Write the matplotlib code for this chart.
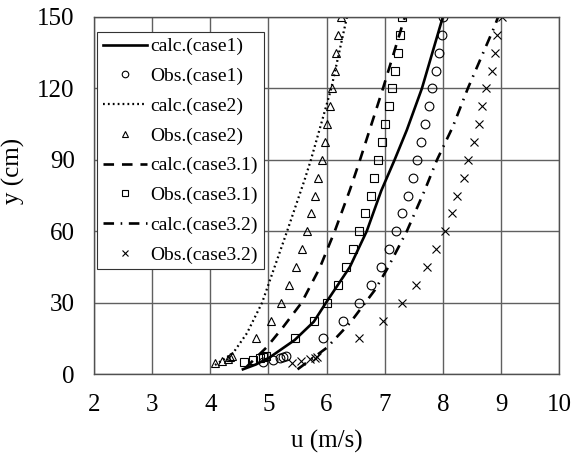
import matplotlib
matplotlib.use("Agg")
import matplotlib.pyplot as plt

plt.rcParams.update({
    "font.family": ["Liberation Serif", "DejaVu Serif"],
    "font.size": 18,
})

# calculated profiles (u in m/s, y in cm)
calc1_u = [4.56, 4.78, 5.02, 5.45, 5.78, 5.99, 6.4, 6.69, 6.94, 7.17, 7.38, 7.64, 8.0]
calc1_y = [2.0, 4.0, 7.0, 14.3, 22.0, 30.0, 45.0, 60.0, 77.0, 90.0, 102.5, 120.0, 150.0]

calc2_u = [4.08, 4.39, 4.63, 4.89, 5.32, 5.62, 5.73, 6.08, 6.35]
calc2_y = [3.8, 8.8, 17.2, 30.0, 60.0, 81.5, 90.0, 120.0, 150.0]

calc31_u = [4.6, 4.97, 5.25, 5.57, 5.88, 6.14, 6.4, 6.57, 6.97, 7.33, 7.35]
calc31_y = [2.5, 11.3, 19.7, 30.0, 44.5, 60.0, 77.3, 89.6, 120.0, 148.7, 150.0]

calc32_u = [5.5, 6.0, 6.4, 6.83, 7.05, 7.38, 7.69, 7.9, 8.17, 8.43, 8.9, 8.95]
calc32_y = [2.0, 11.0, 21.4, 35.3, 44.5, 60.0, 77.3, 90.0, 103.8, 120.0, 146.6, 150.0]

# observations
obs1_y = [5.0, 5.9, 6.6, 7.0, 7.4, 15, 22.5, 30, 37.5, 45, 52.5, 60, 67.5, 75,
          82.5, 90, 97.5, 105, 112.5, 120, 127.5, 135, 142.5, 150]
obs1_u = [4.9, 5.08, 5.2, 5.25, 5.3, 5.93, 6.28, 6.55, 6.76, 6.93, 7.07, 7.19, 7.30, 7.40,
          7.48, 7.55, 7.63, 7.70, 7.76, 7.82, 7.88, 7.93, 7.98, 8.01]

obs2_y = [4.6, 5.5, 6.5, 7.0, 7.4, 15, 22.5, 30, 37.5, 45, 52.5, 60, 67.5, 75,
          82.5, 90, 97.5, 105, 112.5, 120, 127.5, 135, 142.5, 150]
obs2_u = [4.08, 4.2, 4.3, 4.34, 4.37, 4.78, 5.04, 5.21, 5.35, 5.47, 5.57, 5.66, 5.73, 5.80,
          5.86, 5.92, 5.97, 6.0, 6.06, 6.1, 6.14, 6.17, 6.19, 6.24]

obs31_y = [5.0, 5.8, 6.6, 7.0, 7.4, 15, 22.5, 30, 37.5, 45, 52.5, 60, 67.5, 75,
           82.5, 90, 97.5, 105, 112.5, 120, 127.5, 135, 142.5, 150]
obs31_u = [4.58, 4.73, 4.85, 4.9, 4.95, 5.45, 5.78, 6.0, 6.19, 6.33, 6.45, 6.55, 6.66, 6.76,
           6.81, 6.88, 6.95, 7.01, 7.07, 7.12, 7.17, 7.22, 7.26, 7.29]

obs32_y = [4.7, 5.5, 6.3, 6.8, 7.2, 15, 22.5, 30, 37.5, 45, 52.5, 60, 67.5, 75,
           82.5, 90, 97.5, 105, 112.5, 120, 127.5, 135, 142.5, 150]
obs32_u = [5.4, 5.56, 5.71, 5.8, 5.84, 6.55, 6.97, 7.29, 7.53, 7.72, 7.89, 8.03, 8.15, 8.25,
           8.36, 8.44, 8.53, 8.62, 8.68, 8.75, 8.84, 8.89, 8.94, 9.01]

x_ticks = [2, 3, 4, 5, 6, 7, 8, 9, 10]
y_ticks = [0, 30, 60, 90, 120, 150]

fig = plt.figure(figsize=(5.74, 4.59), dpi=100)
ax = fig.add_axes([0.164, 0.185, 0.81, 0.778])

mk = dict(linestyle="none", markerfacecolor="none", markeredgecolor="black",
          markeredgewidth=0.8, markersize=6.3)

ax.plot(calc1_u, calc1_y, color="black", lw=1.9, label="calc.(case1)")
ax.plot(obs1_u, obs1_y, marker="o", label="Obs.(case1)", **mk)
ax.plot(calc2_u, calc2_y, color="black", lw=1.6, linestyle=(0, (0.8, 1.4)),
        label="calc.(case2)")
ax.plot(obs2_u, obs2_y, marker="^", label="Obs.(case2)", **mk)
ax.plot(calc31_u, calc31_y, color="black", lw=1.9, linestyle=(0, (4, 3)),
        label="calc.(case3.1)")
ax.plot(obs31_u, obs31_y, marker="s", label="Obs.(case3.1)", **mk)
ax.plot(calc32_u, calc32_y, color="black", lw=1.9, linestyle=(0, (4, 2.5, 0.6, 2.5)),
        label="calc.(case3.2)")
ax.plot(obs32_u, obs32_y, marker="x", label="Obs.(case3.2)", **mk)

ax.set_xlim(2, 10)
ax.set_ylim(0, 150)
ax.set_xticks(x_ticks)
ax.set_yticks(y_ticks)
ax.grid(True, color="#606060", lw=1.0)
ax.set_axisbelow(True)
for s in ax.spines.values():
    s.set_color("#505050")
    s.set_linewidth(1.0)
ax.tick_params(length=0, pad=14, labelsize=18)
ax.set_xlabel("u (m/s)", fontsize=18, labelpad=10)
ax.set_ylabel("y (cm)", fontsize=18)
ax.yaxis.set_label_coords(-0.148, 0.57)

leg = ax.legend(loc="upper left", bbox_to_anchor=(0.006, 0.958), borderaxespad=0,
                fontsize=14, handlelength=2.3, handletextpad=0.15, labelspacing=0.62,
                markerscale=0.75, fancybox=False, framealpha=1, borderpad=0.3)
leg.get_frame().set_edgecolor("#333333")
leg.get_frame().set_linewidth(0.8)

fig.savefig("out.png", dpi=100)
